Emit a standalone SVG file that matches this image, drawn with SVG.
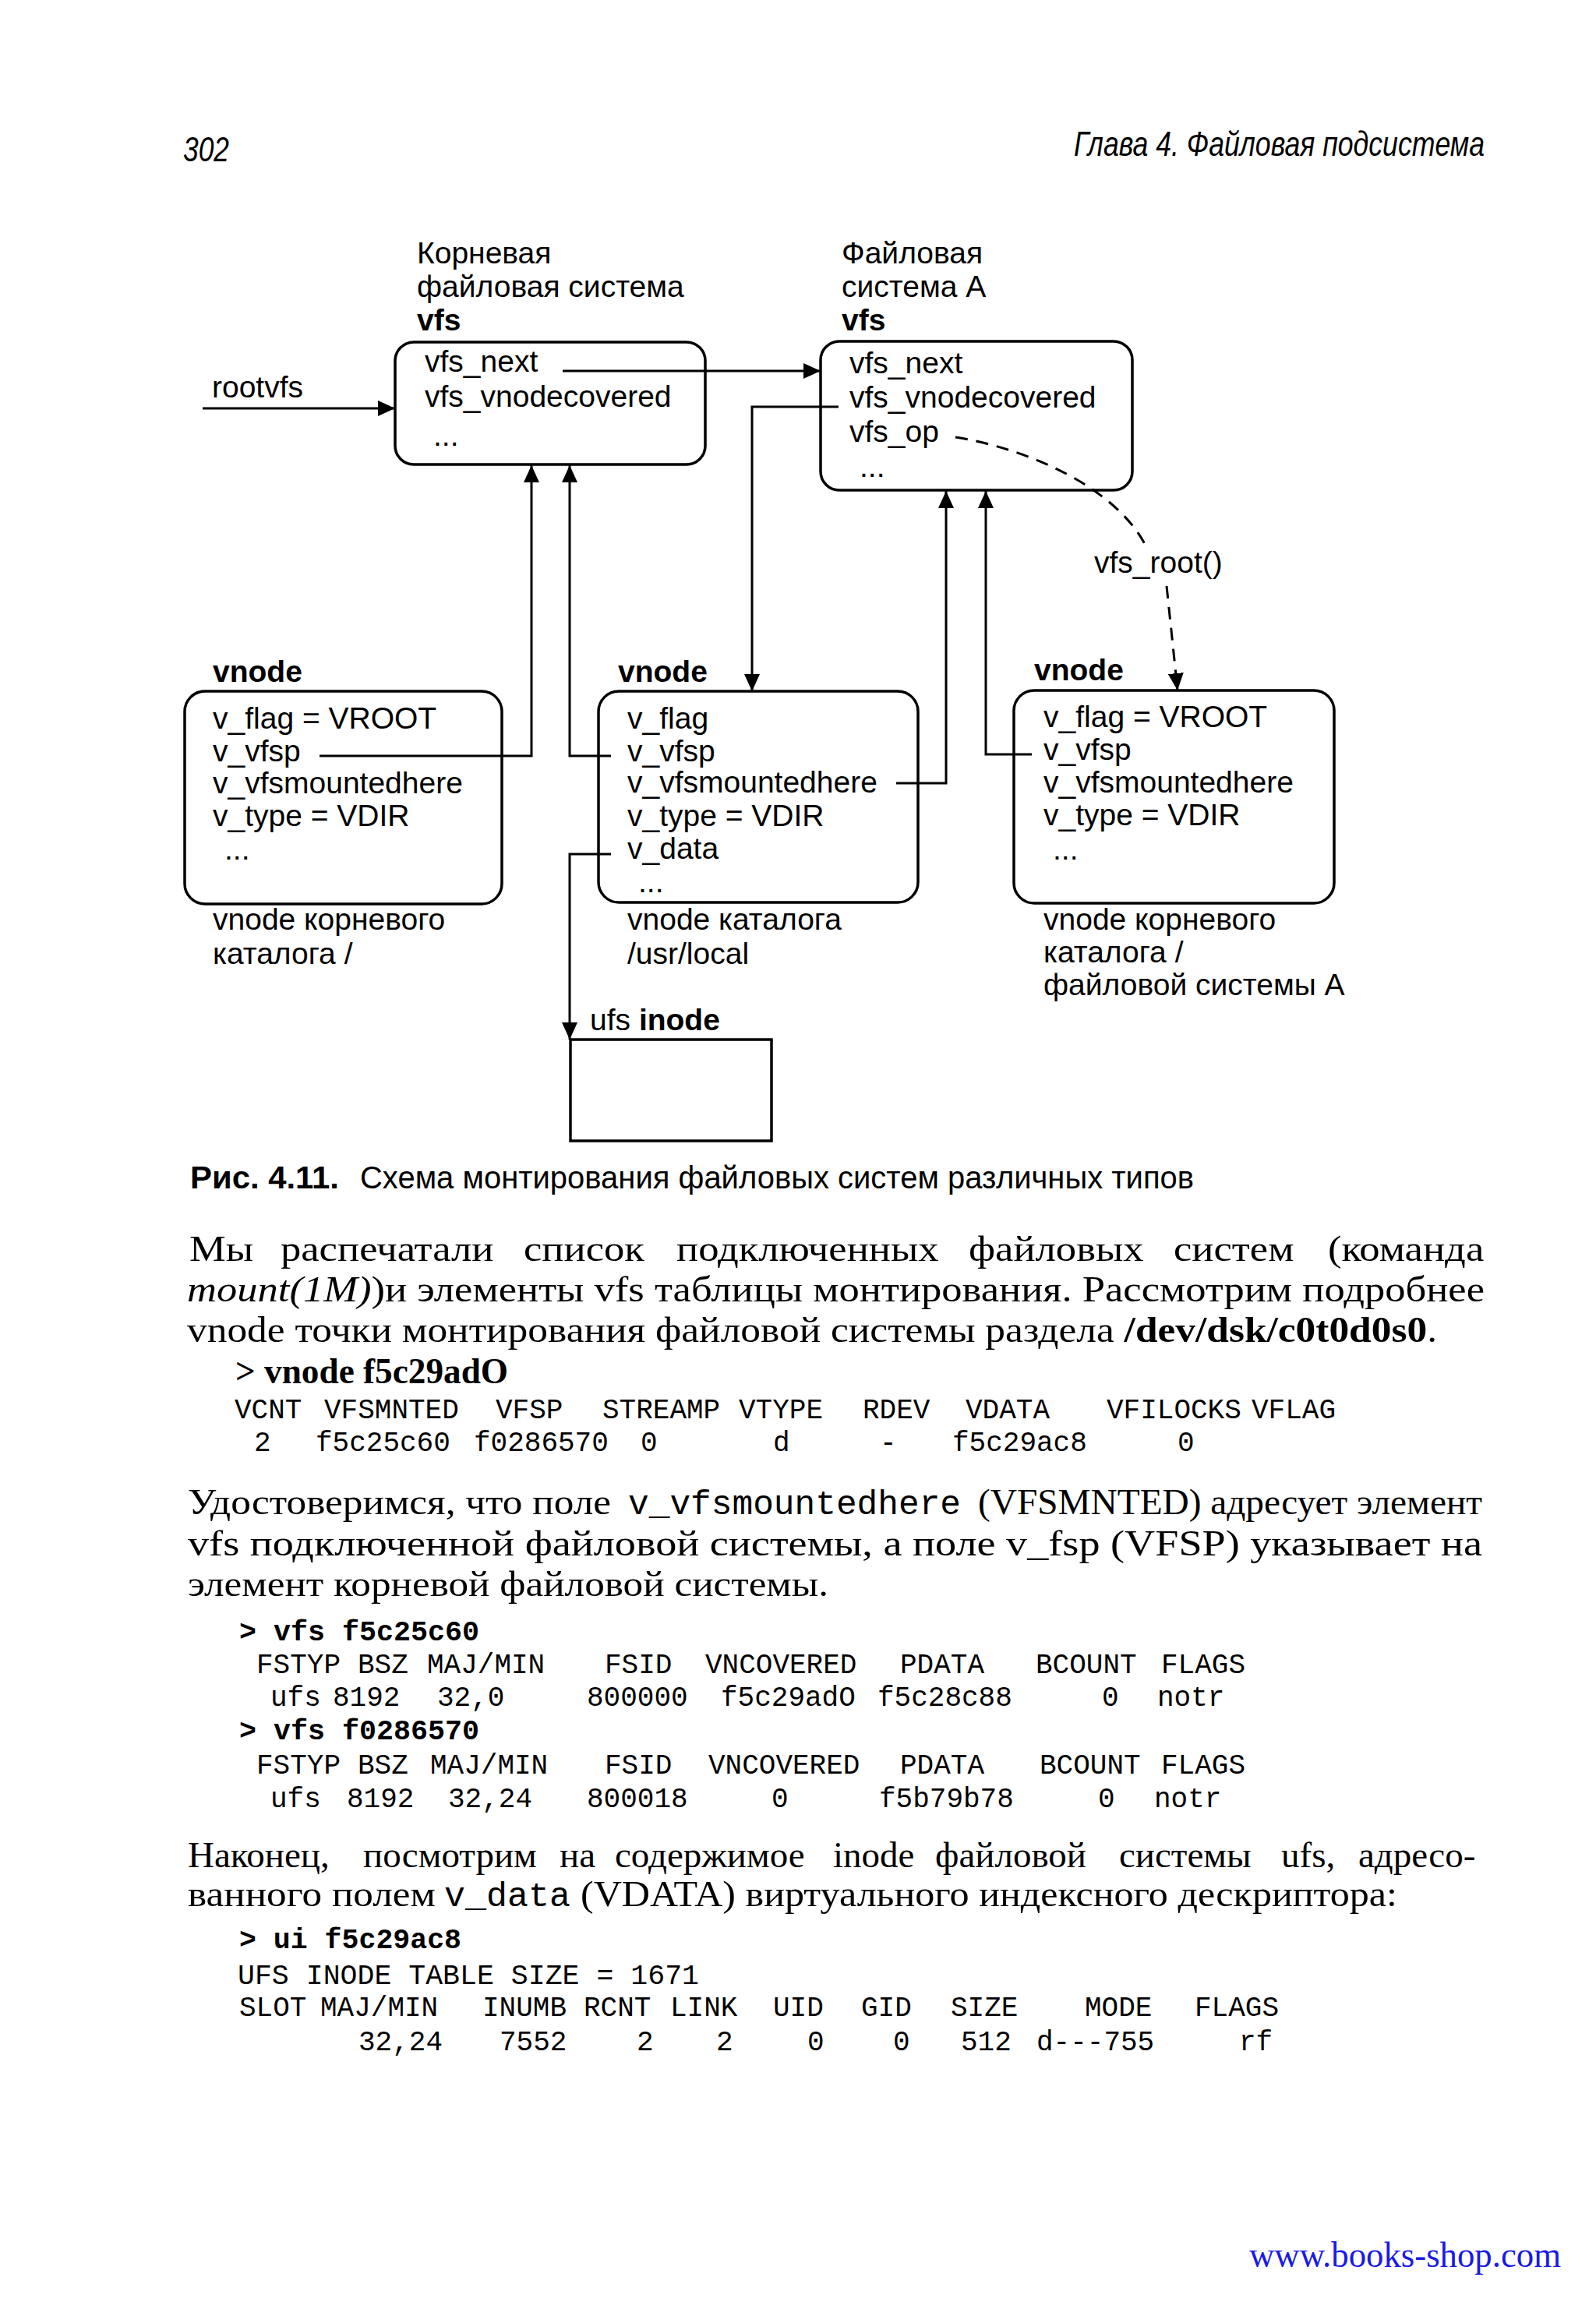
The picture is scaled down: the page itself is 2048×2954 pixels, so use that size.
<svg xmlns="http://www.w3.org/2000/svg" width="2048" height="2954" viewBox="0 0 2048 2954">
<style>
.d{font-family:"Liberation Sans",Arial,sans-serif;font-size:39px;fill:#000}
.db{font-family:"Liberation Sans",Arial,sans-serif;font-size:39px;font-weight:bold;fill:#000}
.box{fill:none;stroke:#000;stroke-width:3.5}
.ln{fill:none;stroke:#000;stroke-width:3}
.dash{fill:none;stroke:#000;stroke-width:3;stroke-dasharray:16 11}
.hd{font-family:"Liberation Sans",Arial,sans-serif;font-style:italic;font-size:44px;fill:#000}
.cap{font-family:"Liberation Sans",Arial,sans-serif;font-size:41px;fill:#000}
.b{font-family:"Liberation Serif","Times New Roman",serif;font-size:47px;fill:#000}
.m{font-family:"Liberation Mono","Courier New",monospace;font-size:36px;fill:#000}
.mb{font-family:"Liberation Mono","Courier New",monospace;font-size:37px;font-weight:bold;fill:#000}
.mi{font-family:"Liberation Mono","Courier New",monospace;font-size:44px;fill:#000}
</style>
<defs>
<marker id="ar" viewBox="0 0 22 20" refX="22" refY="10" markerWidth="22" markerHeight="20" markerUnits="userSpaceOnUse" orient="auto">
<path d="M0,0 L22,10 L0,20 z" fill="#000"/>
</marker>
</defs>
<rect width="2048" height="2954" fill="#fff"/>

<g id="header">
<text class="hd" x="235" y="207" textLength="59" lengthAdjust="spacingAndGlyphs">302</text>
<text class="hd" transform="translate(1378,200) scale(0.81,1)" x="0" y="0">Глава 4. Файловая подсистема</text>
</g>

<g id="labels-top">
<text class="d" x="535" y="338">Корневая</text>
<text class="d" x="535" y="381">файловая система</text>
<text class="db" x="535" y="424">vfs</text>
<text class="d" x="1080" y="338">Файловая</text>
<text class="d" x="1080" y="381">система А</text>
<text class="db" x="1080" y="424">vfs</text>
<text class="d" x="272" y="510">rootvfs</text>
</g>

<g id="node-vfs-root">
<rect class="box" x="507" y="439" width="398" height="157" rx="24"/>
<text class="d" x="545" y="477">vfs_next</text>
<text class="d" x="545" y="522">vfs_vnodecovered</text>
<text class="d" x="556" y="572">...</text>
</g>

<g id="node-vfs-a">
<rect class="box" x="1053" y="438" width="400" height="191" rx="24"/>
<text class="d" x="1090" y="479">vfs_next</text>
<text class="d" x="1090" y="523">vfs_vnodecovered</text>
<text class="d" x="1090" y="567">vfs_op</text>
<text class="d" x="1103" y="612">...</text>
</g>

<g id="node-vnode-root">
<text class="db" x="273" y="875">vnode</text>
<rect class="box" x="237" y="887" width="407" height="273" rx="26"/>
<text class="d" x="273" y="935">v_flag = VROOT</text>
<text class="d" x="273" y="977">v_vfsp</text>
<text class="d" x="273" y="1018">v_vfsmountedhere</text>
<text class="d" x="273" y="1060">v_type = VDIR</text>
<text class="d" x="288" y="1103">...</text>
<text class="d" x="273" y="1193">vnode корневого</text>
<text class="d" x="273" y="1237">каталога /</text>
</g>

<g id="node-vnode-usr">
<text class="db" x="793" y="875">vnode</text>
<rect class="box" x="768" y="887" width="410" height="271" rx="26"/>
<text class="d" x="805" y="935">v_flag</text>
<text class="d" x="805" y="977">v_vfsp</text>
<text class="d" x="805" y="1017">v_vfsmountedhere</text>
<text class="d" x="805" y="1060">v_type = VDIR</text>
<text class="d" x="805" y="1102">v_data</text>
<text class="d" x="819" y="1145">...</text>
<text class="d" x="805" y="1193">vnode каталога</text>
<text class="d" x="805" y="1237">/usr/local</text>
</g>

<g id="node-vnode-a">
<text class="db" x="1327" y="873">vnode</text>
<rect class="box" x="1301" y="886" width="411" height="273" rx="26"/>
<text class="d" x="1339" y="933">v_flag = VROOT</text>
<text class="d" x="1339" y="975">v_vfsp</text>
<text class="d" x="1339" y="1017">v_vfsmountedhere</text>
<text class="d" x="1339" y="1059">v_type = VDIR</text>
<text class="d" x="1351" y="1103">...</text>
<text class="d" x="1339" y="1193">vnode корневого</text>
<text class="d" x="1339" y="1235">каталога /</text>
<text class="d" x="1339" y="1277">файловой системы А</text>
</g>

<g id="node-ufs-inode">
<text class="d" x="757" y="1322">ufs <tspan font-weight="bold">inode</tspan></text>
<rect class="box" x="732" y="1334" width="258" height="130"/>
</g>

<g id="connectors">
<path class="ln" d="M260,524 H507" marker-end="url(#ar)"/>
<path class="ln" d="M722,476 H1053" marker-end="url(#ar)"/>
<path class="ln" d="M1076,522 H965 V887" marker-end="url(#ar)"/>
<path class="dash" d="M1226,561 C1320,576 1432,626 1470,700"/>
<text class="d" x="1404" y="735">vfs_root()</text>
<path class="dash" d="M1497,752 L1509,866"/>
<path class="ln" d="M1509,866 L1511,886" marker-end="url(#ar)"/>
<path class="ln" d="M410,970 H682 V597" marker-end="url(#ar)"/>
<path class="ln" d="M784,970 H731 V597" marker-end="url(#ar)"/>
<path class="ln" d="M1150,1005 H1214 V630" marker-end="url(#ar)"/>
<path class="ln" d="M1324,968 H1265 V630" marker-end="url(#ar)"/>
<path class="ln" d="M784,1096 H731 V1334" marker-end="url(#ar)"/>
</g>

<g id="caption">
<text class="cap" x="244" y="1525" font-weight="bold" textLength="191" lengthAdjust="spacingAndGlyphs">Рис. 4.11.</text>
<text class="cap" x="462" y="1525" textLength="1070" lengthAdjust="spacingAndGlyphs">Схема монтирования файловых систем различных типов</text>
</g>

<g id="body">
<text class="b" y="1618" transform="scale(1.12,1)"><tspan x="217">Мы</tspan><tspan x="321.4">распечатали</tspan><tspan x="600">список</tspan><tspan x="775">подключенных</tspan><tspan x="1109.8">файловых</tspan><tspan x="1344.6">систем</tspan><tspan x="1521.4">(команда</tspan></text>
<text class="b" x="240" y="1670" textLength="1665" lengthAdjust="spacingAndGlyphs"><tspan font-style="italic">mount(1M)</tspan>)и элементы vfs таблицы монтирования. Рассмотрим подробнее</text>
<text class="b" x="240" y="1722" textLength="1604" lengthAdjust="spacingAndGlyphs">vnode точки монтирования файловой системы раздела <tspan font-weight="bold">/dev/dsk/c0t0d0s0</tspan>.</text>
<text class="b" x="302" y="1775" font-weight="bold" textLength="350" lengthAdjust="spacingAndGlyphs">&gt; vnode f5c29adO</text>

<g class="m">
<text x="301" y="1820">VCNT</text><text x="416" y="1820">VFSMNTED</text><text x="636" y="1820">VFSP</text><text x="773" y="1820">STREAMP</text><text x="948" y="1820">VTYPE</text><text x="1107" y="1820">RDEV</text><text x="1239" y="1820">VDATA</text><text x="1420" y="1820">VFILOCKS</text><text x="1606" y="1820">VFLAG</text>
<text x="326" y="1862">2</text><text x="405" y="1862">f5c25c60</text><text x="608" y="1862">f0286570</text><text x="822" y="1862">0</text><text x="992" y="1862">d</text><text x="1129" y="1862">-</text><text x="1222" y="1862">f5c29ac8</text><text x="1511" y="1862">0</text>
</g>

<text class="b" x="241" y="1943" textLength="543" lengthAdjust="spacingAndGlyphs">Удостоверимся, что поле</text>
<text class="mi" x="806" y="1943" textLength="427" lengthAdjust="spacingAndGlyphs">v_vfsmountedhere</text>
<text class="b" x="1255" y="1943" textLength="647" lengthAdjust="spacingAndGlyphs">(VFSMNTED) адресует элемент</text>
<text class="b" x="241" y="1996" textLength="1661" lengthAdjust="spacingAndGlyphs">vfs подключенной файловой системы, а поле v_fsp (VFSP) указывает на</text>
<text class="b" x="241" y="2048" textLength="822" lengthAdjust="spacingAndGlyphs">элемент корневой файловой системы.</text>

<text class="mb" x="307" y="2105" textLength="308" lengthAdjust="spacingAndGlyphs">&gt; vfs f5c25c60</text>
<g class="m">
<text x="329" y="2147">FSTYP</text><text x="459" y="2147">BSZ</text><text x="548" y="2147">MAJ/MIN</text><text x="776" y="2147">FSID</text><text x="905" y="2147">VNCOVERED</text><text x="1155" y="2147">PDATA</text><text x="1329" y="2147">BCOUNT</text><text x="1490" y="2147">FLAGS</text>
<text x="347" y="2189">ufs</text><text x="427" y="2189">8192</text><text x="561" y="2189">32,0</text><text x="753" y="2189">800000</text><text x="925" y="2189">f5c29adO</text><text x="1126" y="2189">f5c28c88</text><text x="1414" y="2189">0</text><text x="1485" y="2189">notr</text>
</g>
<text class="mb" x="307" y="2232" textLength="308" lengthAdjust="spacingAndGlyphs">&gt; vfs f0286570</text>
<g class="m">
<text x="329" y="2276">FSTYP</text><text x="459" y="2276">BSZ</text><text x="552" y="2276">MAJ/MIN</text><text x="776" y="2276">FSID</text><text x="909" y="2276">VNCOVERED</text><text x="1155" y="2276">PDATA</text><text x="1334" y="2276">BCOUNT</text><text x="1490" y="2276">FLAGS</text>
<text x="347" y="2319">ufs</text><text x="445" y="2319">8192</text><text x="575" y="2319">32,24</text><text x="753" y="2319">800018</text><text x="990" y="2319">0</text><text x="1128" y="2319">f5b79b78</text><text x="1409" y="2319">0</text><text x="1481" y="2319">notr</text>
</g>

<text class="b" y="2396"><tspan x="241">Наконец,</tspan><tspan x="466">посмотрим</tspan><tspan x="718">на</tspan><tspan x="789">содержимое</tspan><tspan x="1069">inode</tspan><tspan x="1200">файловой</tspan><tspan x="1436">системы</tspan><tspan x="1644">ufs,</tspan><tspan x="1743">адресо-</tspan></text>
<text class="b" x="241" y="2446" textLength="318" lengthAdjust="spacingAndGlyphs">ванного полем</text>
<text class="mi" x="570" y="2446" textLength="162" lengthAdjust="spacingAndGlyphs">v_data</text>
<text class="b" x="745" y="2446" textLength="1048" lengthAdjust="spacingAndGlyphs">(VDATA) виртуального индексного дескриптора:</text>

<text class="mb" x="307" y="2500" textLength="285" lengthAdjust="spacingAndGlyphs">&gt; ui f5c29ac8</text>
<text class="m" x="305" y="2546" textLength="592" lengthAdjust="spacingAndGlyphs">UFS INODE TABLE SIZE = 1671</text>
<g class="m">
<text x="307" y="2587">SLOT</text><text x="411" y="2587">MAJ/MIN</text><text x="619" y="2587">INUMB</text><text x="749" y="2587">RCNT</text><text x="860" y="2587">LINK</text><text x="992" y="2587">UID</text><text x="1105" y="2587">GID</text><text x="1220" y="2587">SIZE</text><text x="1392" y="2587">MODE</text><text x="1533" y="2587">FLAGS</text>
<text x="460" y="2631">32,24</text><text x="641" y="2631">7552</text><text x="817" y="2631">2</text><text x="919" y="2631">2</text><text x="1036" y="2631">0</text><text x="1146" y="2631">0</text><text x="1233" y="2631">512</text><text x="1330" y="2631">d---755</text><text x="1590" y="2631">rf</text>
</g>
</g>

<g id="footer">
<text x="1603" y="2909" font-family="Liberation Serif,Times New Roman,serif" font-size="46" fill="#1a1ae6" textLength="400" lengthAdjust="spacingAndGlyphs">www.books-shop.com</text>
</g>
</svg>
